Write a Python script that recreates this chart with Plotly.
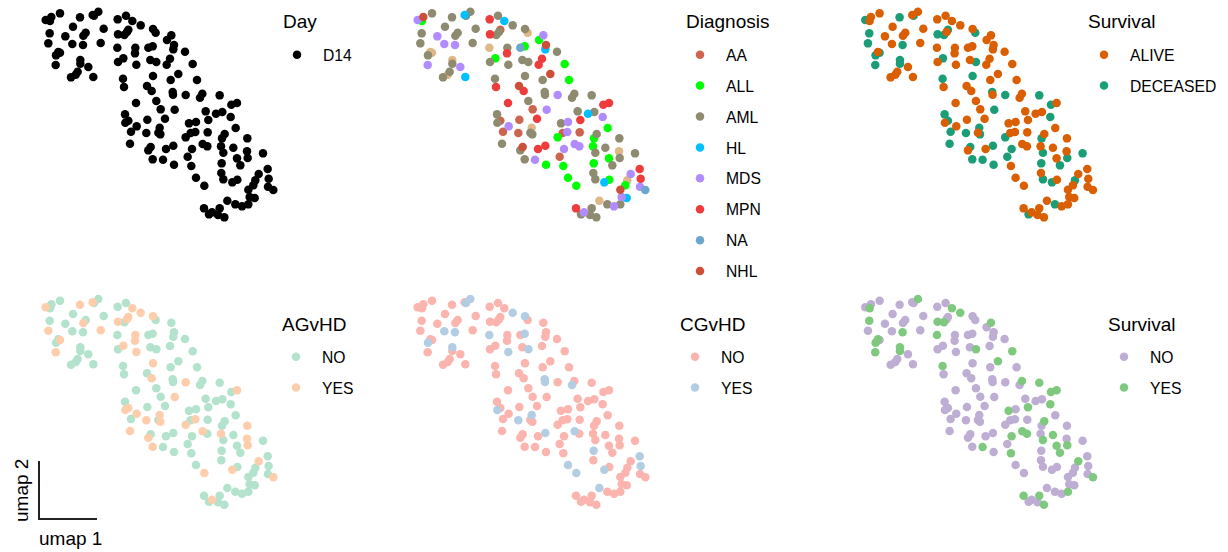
import plotly.graph_objects as go

umap1 = [.47,.60,.64,.90,1.50,1.88,1.92,2.05,1.29,.59,1.06,1.60,1.67,2.21,.55,1.27,1.59,2.12,.90,.85,
 .78,.77,1.51,1.51,1.75,1.43,1.37,1.23,1.90,2.63,2.88,3.07,3.32,3.69,3.77,2.64,2.83,2.95,2.91,4.24,
 4.32,4.30,2.62,3.16,3.15,3.55,3.68,4.65,2.80,2.64,3.19,3.61,3.79,4.20,4.88,3.69,4.45,2.79,2.82,3.51,
 3.65,4.22,5.01,4.28,4.67,5.17,5.10,5.69,3.18,3.79,6.21,6.04,3.92,4.34,5.27,5.58,5.77,2.85,2.95,2.86,
 3.52,4.05,6.02,5.35,4.77,4.98,3.20,3.89,3.03,3.49,3.85,3.91,4.82,4.96,4.67,5.33,6.17,5.84,5.76,6.52,
 3.00,3.62,3.55,4.08,4.30,4.86,5.18,5.32,5.73,6.10,6.51,5.80,4.73,3.68,3.99,6.53,6.21,6.99,4.32,4.84,
 6.31,5.75,5.74,7.13,6.86,4.98,6.22,6.07,6.76,6.70,7.16,5.23,6.55,7.14,7.30,6.74,6.59,5.92,6.16,6.36,
 6.55,5.22,5.46,5.37,5.69,5.64,5.83,5.80,4.11,4.10,4.29]
umap2 = [6.48,6.45,6.57,6.68,6.56,6.63,6.61,6.73,6.28,6.08,5.99,6.01,6.10,6.22,5.78,5.76,5.73,5.79,5.50,5.52,
 5.42,5.13,5.28,5.17,5.07,4.93,4.84,4.76,4.77,6.50,6.61,6.45,6.32,6.21,6.10,6.05,6.03,6.19,6.12,6.02,
 5.73,5.60,5.65,5.65,5.48,5.65,5.69,5.53,5.33,5.22,5.14,5.28,5.22,5.32,5.16,4.80,4.86,4.72,4.47,4.50,
 4.35,4.68,4.68,4.32,4.23,4.27,4.15,4.22,3.99,4.05,3.99,3.94,3.80,3.79,3.74,3.67,3.72,3.65,3.46,3.40,
 3.49,3.52,3.57,3.48,3.38,3.42,3.29,3.25,3.13,3.09,3.10,3.05,3.09,3.12,2.96,3.11,3.24,3.06,2.93,2.93,
 2.77,2.67,2.57,2.61,2.71,2.61,2.76,2.69,2.69,2.65,2.54,2.50,2.38,2.30,2.29,2.34,2.33,2.48,2.14,2.10,
 2.12,2.18,1.89,2.01,1.86,1.75,1.69,1.61,1.67,1.52,1.72,1.51,1.39,1.48,1.38,1.14,1.17,1.06,.95,.89,
 .95,.83,.71,.65,.83,.63,.56,1.70,5.88,5.14,4.24]
diagnosis = """MDS ALL NHL AML AML HL AML AML AML AML
MDS AML AML AML AML MDS MDS AML TAN TAN
AML MDS TAN AML MDS AML TAN AML HL MPN
AML HL AML AML TAN MPN AML AA AML MDS
NHL HL TAN AML MPN NA ALL AML ALL AML
AML AML AML MPN ALL AML NHL AML MPN NHL
MPN AML ALL AML MDS AML AML AML MPN AML
MPN MPN AA MDS AML HL AML AML AA AML
AA MPN MDS MPN AML MDS MDS TAN AA AA
AML AML AA MDS ALL AA ALL AML ALL AML
AML NHL AML MPN MPN MDS MDS MDS ALL AML
TAN AML AA AML MDS AML ALL AML ALL ALL
AML ALL AML MPN MDS ALL ALL HL TAN ALL
MPN ALL NHL MDS NA HL MDS TAN AML MDS
AML MPN MDS AML AML AML AML AML ALL MPN AML""".split()
survival_deceased = [1,5,7,10,15,17,19,21,22,23,24,38,36,37,35,49,53,58,56,78,64,65,68,72,79,74,83,89,90,88,92,
 101,102,105,95,106,113,114,115,119,99,112,122,116,121,118,148,128,129,139,144]
agvhd_yes = [1,5,6,12,15,18,19,22,32,33,34,36,38,39,44,45,49,51,56,61,65,71,74,79,80,87,88,90,92,94,95,100,101,
 103,107,109,111,114,116,125,128,132,135,143]
cgvhd_yes = [7,8,33,34,47,16,17,21,23,43,51,53,64,151,67,80,88,90,105,107,122,126,132,128,138,124,131]
other_yes = [2,8,10,17,20,21,22,23,24,32,33,36,37,40,43,53,55,57,58,66,68,71,72,83,84,85,98,106,107,108,110,112,
 115,116,117,120,121,125,135,141,142,145,147]
missing_gvhd = [148,149,150]
missing_other = [150]

diag_levels = ["AA","ALL","AML","HL","MDS","MPN","NA","NHL"]
diag_colors = {"AA":"#CD6450","ALL":"#00FF00","AML":"#8F8B70","HL":"#00BFFF","MDS":"#B08CFF",
               "MPN":"#EE3B3B","NA":"#6CA6CD","NHL":"#CD4F39","TAN":"#DEB887"}
FS_T, FS_L = 19, 15.7
W, H = 1228, 552
fig = go.Figure()
n = len(umap1)
ids = list(range(1, n+1))

def xa(i): return "x" if i == 0 else f"x{i+1}"
def ya(i): return "y" if i == 0 else f"y{i+1}"
def lg(i): return "legend" if i == 0 else f"legend{i+1}"

def add(panel, name, members, color, legend=True, rank=1000):
    fig.add_trace(go.Scatter(
        x=[umap1[k-1] for k in members], y=[umap2[k-1] for k in members],
        mode="markers", name=name, xaxis=xa(panel), yaxis=ya(panel),
        marker=dict(color=color, size=8.5, line=dict(width=0)),
        legend=lg(panel), legendgroup=f"{panel}-{name}", showlegend=legend, legendrank=rank,
        hoverinfo="skip"))

# panel 0: Day
add(0, "D14", ids, "#000000")
# panel 1: Diagnosis (the tan dots have no legend entry in the reference)
add(1, "TAN", [k for k in ids if diagnosis[k-1] == "TAN"], diag_colors["TAN"], legend=False)
for d in diag_levels:
    add(1, d, [k for k in ids if diagnosis[k-1] == d], diag_colors[d])
# panel 2: Survival
add(2, "DECEASED", survival_deceased, "#1B9E77", rank=2)
add(2, "ALIVE", [k for k in ids if k not in survival_deceased], "#D95F02", rank=1)
# panel 3: AGvHD
keep = [k for k in ids if k not in missing_gvhd]
add(3, "NO", [k for k in keep if k not in agvhd_yes], "#B3E2CD")
add(3, "YES", agvhd_yes, "#FDCDAC")
# panel 4: CGvHD
add(4, "NO", [k for k in keep if k not in cgvhd_yes], "#FBB4AE")
add(4, "YES", cgvhd_yes, "#B3CDE3")
# panel 5: Survival (second)
keep2 = [k for k in ids if k not in missing_other]
add(5, "NO", [k for k in keep2 if k not in other_yes], "#BEAED4")
add(5, "YES", other_yes, "#7FC97F")

panels = [(0, 2.7), (372, 2.7), (819.6, 2.7), (0, 290), (372, 290), (819.6, 290)]
layout = dict(width=W, height=H, margin=dict(l=0, r=0, t=0, b=0),
              paper_bgcolor="white", plot_bgcolor="white", showlegend=True,
              font=dict(family="Liberation Sans, Arial, sans-serif", color="black"))
for i, (dx, top) in enumerate(panels):
    sfx = "" if i == 0 else str(i+1)
    layout[f"xaxis{sfx}"] = dict(domain=[(30+dx)/W, (280+dx)/W], range=[0, 7.5], visible=False, fixedrange=True)
    layout[f"yaxis{sfx}"] = dict(domain=[1-(top+700/3)/H, 1-top/H], range=[0, 7], visible=False, fixedrange=True)

# legend anchors: dot x, first-item y (pixels), title x, title y
legends = [(297, 55, 281, 22, "Day"), (700, 55, 684, 22, "Diagnosis"), (1104, 55, 1086, 22, "Survival"),
           (296, 357, 280, 324, "AGvHD"), (695, 357, 678, 324, "CGvHD"), (1124, 357, 1106, 324, "Survival")]
annotations = []
for i, (dotx, y0, tx, ty, title) in enumerate(legends):
    key = "legend" if i == 0 else f"legend{i+1}"
    layout[key] = dict(x=(dotx-26)/W, y=1-(y0-17)/H, xanchor="left", yanchor="top",
                       bgcolor="rgba(0,0,0,0)", borderwidth=0, font=dict(size=FS_L), itemwidth=42,
                       traceorder="grouped", tracegroupgap=7.5, itemsizing="trace",
                       itemclick=False, itemdoubleclick=False)
    annotations.append(dict(text=title, x=tx/W, y=1-ty/H, xref="paper", yref="paper", xanchor="left",
                            yanchor="middle", showarrow=False, font=dict(size=FS_T)))
annotations.append(dict(text="umap 1", x=70/W, y=1-538/H, xref="paper", yref="paper", showarrow=False,
                        xanchor="center", yanchor="middle", font=dict(size=FS_T)))
annotations.append(dict(text="umap 2", x=21/W, y=1-491/H, xref="paper", yref="paper", showarrow=False,
                        xanchor="center", yanchor="middle", textangle=-90, font=dict(size=FS_T)))
layout["annotations"] = annotations
layout["shapes"] = [
    dict(type="line", xref="paper", yref="paper", x0=39/W, x1=39/W, y0=1-461/H, y1=1-519.5/H, line=dict(color="#222", width=2)),
    dict(type="line", xref="paper", yref="paper", x0=38/W, x1=97/W, y0=1-519/H, y1=1-519/H, line=dict(color="#222", width=2)),
]
fig.update_layout(**layout)
fig.write_html("out.html", config={"displayModeBar": False}, post_script="document.body.style.margin='0';")
